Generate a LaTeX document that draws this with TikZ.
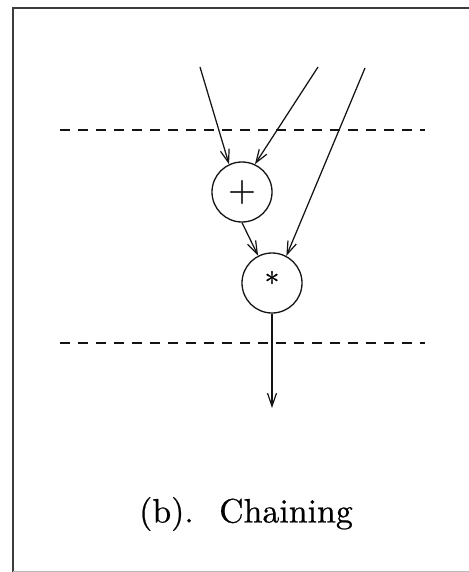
\documentclass[tikz,border=0pt]{standalone}
\usepackage{xcolor}
\usepackage{fontspec}
\usepackage{tikz}
\usetikzlibrary{positioning,arrows.meta,calc}
\newfontfamily\scanfont{lmroman10-regular.otf}[FakeBold=0.6]
\definecolor{lineColor}{RGB}{20, 20, 20}
\definecolor{frameColor}{RGB}{60, 60, 60}

\begin{document}
\begin{tikzpicture}[x=1bp, y=-1bp,
        op/.style={circle, draw=lineColor, line width=1.3bp, minimum size=60bp, inner sep=0pt, font=\fontsize{36}{40}\scanfont},
        flow/.style={draw=lineColor, line width=1.25bp, -{Straight Barb[length=13bp, width=9bp, line width=1.2bp]}},
        stage/.style={draw=lineColor, line width=1.2bp, dash pattern=on 10bp off 8bp}]
    \useasboundingbox (0,0) rectangle (469,572);
    % frame
    \draw[frameColor, line width=1.3bp] (469,8) -- (13,8) -- (13,572);
    \draw[frameColor!35, line width=1bp] (13,571) -- (469,571);
    % clock boundaries
    \coordinate (b1l) at (60,130);  \coordinate (b1r) at (425,130);
    \coordinate (b2l) at (60,343);  \coordinate (b2r) at (425,343);
    \draw[stage] (b1l) -- (b1r);
    \draw[stage] (b2l) -- (b2r);
    % operators
    \node[op] (add) at (242,192) {+};
    \node[op, font=\fontsize{30}{34}\scanfont] (mul) at (272,283) {\raisebox{0.05em}{*}};
    % inputs and output
    \coordinate (in1) at (200,67);
    \coordinate (in2) at (318,67);
    \coordinate (in3) at (365,68);
    \coordinate (res) at (272,408);
    \draw[flow] (in1) -- (add.115);
    \draw[flow] (in2) -- (add.65);
    \draw[flow] (in3) -- (mul.62);
    \draw[flow] (add.south) -- (mul.117);
    \draw[flow] (mul.south) -- (res);
    % caption
    \node (cap) at (246,514) {\fontsize{34}{40}\scanfont (b).\hspace{0.75em}Chaining};
\end{tikzpicture}
\end{document}
